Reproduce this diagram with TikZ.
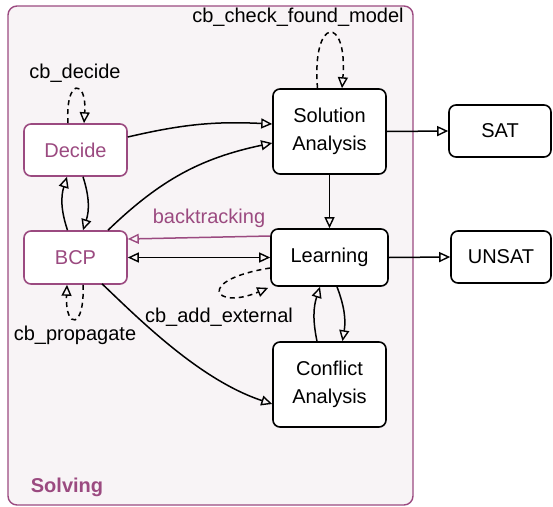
\documentclass[tikz,border=0pt]{standalone}
\usepackage{fontspec}
\setmainfont{Liberation Sans}
\usetikzlibrary{arrows.meta}
\definecolor{sviolet}{RGB}{155,74,128}
\definecolor{sbg}{RGB}{248,244,246}
\begin{document}
\begin{tikzpicture}[x=1pt,y=-1pt,
  font=\fontsize{20}{24}\selectfont,
  box/.style={draw=black,fill=white,rounded corners=7pt,line width=1.6pt,inner sep=0pt,align=center},
  pbox/.style={box,draw=sviolet,text=sviolet},
  conn/.style={line width=1.5pt,-{Triangle[open,length=11pt,width=10pt,line width=1.4pt]}},
  dconn/.style={conn,dash pattern=on 5pt off 4pt},
  lbl/.style={inner sep=0pt}]
\useasboundingbox (0,0) rectangle (553,506);
\draw[sviolet,fill=sbg,line width=1.4pt,rounded corners=9pt] (8,6) rectangle (413,505);
\node[lbl,text=sviolet,font=\fontsize{20}{24}\selectfont\bfseries] (solving) at (67,487) {Solving};

\node[pbox,minimum width=103pt,minimum height=52pt] (dec) at (75.5,150) {Decide};
\node[pbox,minimum width=103pt,minimum height=53pt] (bcp) at (75.5,257.5) {BCP};
\node[box,minimum width=113pt,minimum height=85pt] (sol) at (329.5,131.5) {Solution\\[4pt]Analysis};
\node[box,minimum width=117pt,minimum height=57pt] (lrn) at (329.5,257.5) {Learning};
\node[box,minimum width=113pt,minimum height=85pt] (con) at (329.5,384.5) {Conflict\\[4pt]Analysis};
\node[box,minimum width=102pt,minimum height=52pt] (sat) at (500,131) {SAT};
\node[box,minimum width=100pt,minimum height=52pt] (unsat) at (501,257) {UNSAT};

\node[lbl] (lcheck) at (298,17) {cb\_check\_found\_model};
\node[lbl] (ldec) at (75,73) {cb\_decide};
\node[lbl] (lprop) at (75,335) {cb\_propagate};
\node[lbl,text=sviolet] (lback) at (209,218) {backtracking};
\node[lbl] (ladd) at (219,317) {cb\_add\_external};

% solid connectors
\draw[conn] ([yshift=13pt]dec.east) to[bend left=8] ([yshift=7.5pt]sol.west);
\draw[conn] ([xshift=32.5pt]bcp.north) to[bend left=16] ([yshift=-11.5pt]sol.west);
\draw[conn] ([xshift=7.5pt]dec.south) to[bend left=18] ([xshift=7.5pt]bcp.north);
\draw[conn] ([xshift=-8pt]bcp.north) to[bend left=18] ([xshift=-8.5pt]dec.south);
\draw[conn,draw=sviolet] ([yshift=21.5pt]lrn.west) -- ([yshift=18.5pt]bcp.east);
\draw[conn,{Triangle[open,length=11pt,width=10pt,line width=1.4pt]}-{Triangle[open,length=11pt,width=10pt,line width=1.4pt]}] (bcp.east) -- (lrn.west);
\draw[conn] ([xshift=26.5pt,yshift=1pt]bcp.south) .. controls (140,320) and (200,380) .. ([yshift=-19.5pt]con.west);
\draw[conn] (sol.south) -- (lrn.north);
\draw[conn] (sol.east) -- (sat.west);
\draw[conn] (lrn.east) -- (unsat.west);
\draw[conn] ([xshift=-12.5pt]con.north) to[bend left=15] ([xshift=-9.5pt]lrn.south);
\draw[conn] ([xshift=7.5pt]lrn.south) to[bend left=15] ([xshift=13pt]con.north);

% dashed loops
\draw[dconn] ([xshift=-7.5pt]dec.north) .. controls +(-3,-45) and +(3,-45) .. ([xshift=8.5pt]dec.north);
\draw[dconn] ([xshift=-12pt]sol.north) .. controls +(-6,-73) and +(6,-73) .. ([xshift=12.5pt]sol.north);
\draw[dconn] ([xshift=7.5pt]bcp.south) .. controls +(2,45) and +(-2,45) .. ([xshift=-8.5pt]bcp.south);
\draw[dconn] ([yshift=-10.5pt]lrn.west) .. controls +(-76,12) and +(-54,23) .. ([xshift=-2pt,yshift=-1pt]lrn.south west);
\end{tikzpicture}
\end{document}
